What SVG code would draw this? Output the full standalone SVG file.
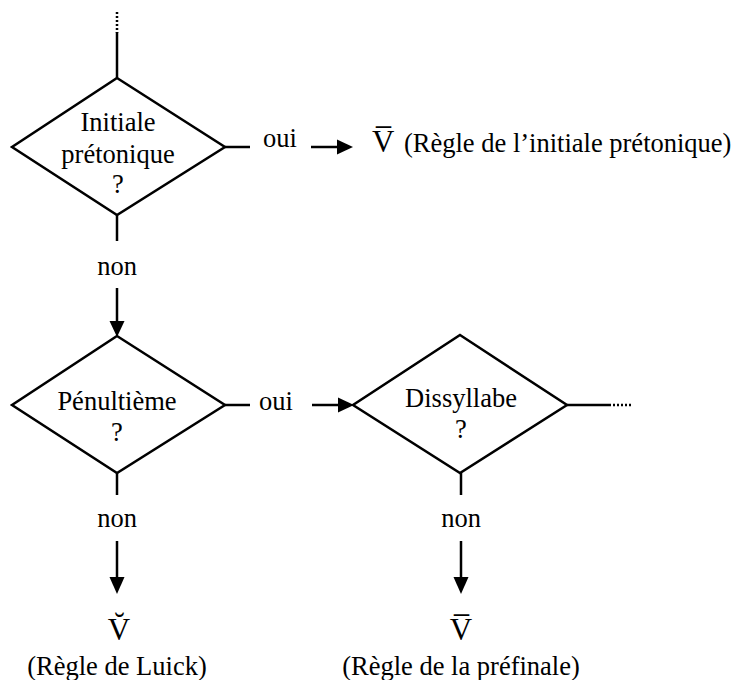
<svg xmlns="http://www.w3.org/2000/svg" width="734" height="680" viewBox="0 0 734 680">
<style>
.ln{stroke:#000;stroke-width:2.5;fill:none}
.dot{stroke:#000;stroke-width:2.5;fill:none;stroke-dasharray:2 2}
.sh{stroke:#000;stroke-width:2.5;fill:#fff}
.ah{fill:#000}
text{font-family:"Liberation Serif","Times New Roman",serif;font-size:26.5px;fill:#000}
.m{text-anchor:middle}
.v{font-size:31px}
</style>
<rect width="734" height="680" fill="#fff"/>
<g id="connectors">
  <line class="dot" x1="117" y1="12" x2="117" y2="33"/>
  <line class="ln" x1="117" y1="32" x2="117" y2="78"/>
  <line class="ln" x1="225" y1="147" x2="250" y2="147"/>
  <line class="ln" x1="311" y1="147" x2="340" y2="147"/>
  <polygon class="ah" points="353,147 337,139.5 337,154.5"/>
  <line class="ln" x1="117" y1="215" x2="117" y2="241"/>
  <line class="ln" x1="117" y1="288" x2="117" y2="322"/>
  <polygon class="ah" points="117,337 109.5,321 124.5,321"/>
  <line class="ln" x1="225" y1="405" x2="250" y2="405"/>
  <line class="ln" x1="312" y1="405" x2="340" y2="405"/>
  <polygon class="ah" points="354,405 338,397.5 338,412.5"/>
  <line class="ln" x1="567" y1="405" x2="609" y2="405"/>
  <line class="dot" x1="609" y1="405" x2="632" y2="405"/>
  <line class="ln" x1="117" y1="473" x2="117" y2="495"/>
  <line class="ln" x1="117" y1="541" x2="117" y2="578"/>
  <polygon class="ah" points="117,594 109.5,577 124.5,577"/>
  <line class="ln" x1="461" y1="473" x2="461" y2="495"/>
  <line class="ln" x1="461" y1="541" x2="461" y2="578"/>
  <polygon class="ah" points="461,594 453.5,577 468.5,577"/>
  <text x="280" y="147" class="m">oui</text>
  <text x="117" y="275" class="m">non</text>
  <text x="276" y="410" class="m">oui</text>
  <text x="117" y="527" class="m">non</text>
  <text x="461" y="527" class="m">non</text>
</g>
<g id="n1">
  <polygon class="sh" points="117,78 225,147 117,215 12,147"/>
  <text x="118" y="131" class="m">Initiale</text>
  <text x="118" y="163" class="m">prétonique</text>
  <text x="118" y="193" class="m">?</text>
</g>
<g id="r1">
  <text x="372" y="152" class="v">V̅</text>
  <text x="404" y="152">(Règle de l’initiale prétonique)</text>
</g>
<g id="n2">
  <polygon class="sh" points="117,336 225,405 117,473 12,405"/>
  <text x="117" y="410" class="m">Pénultième</text>
  <text x="117" y="441" class="m">?</text>
</g>
<g id="n3">
  <polygon class="sh" points="460,335 567,405 460,473 353,405"/>
  <text x="461" y="407" class="m">Dissyllabe</text>
  <text x="461" y="438" class="m">?</text>
</g>
<g id="r2">
  <text x="119" y="640" class="m v">V̆</text>
  <text x="117" y="675" class="m">(Règle de Luick)</text>
</g>
<g id="r3">
  <text x="461" y="640" class="m v">V̅</text>
  <text x="461" y="675" class="m">(Règle de la préfinale)</text>
</g>
</svg>
